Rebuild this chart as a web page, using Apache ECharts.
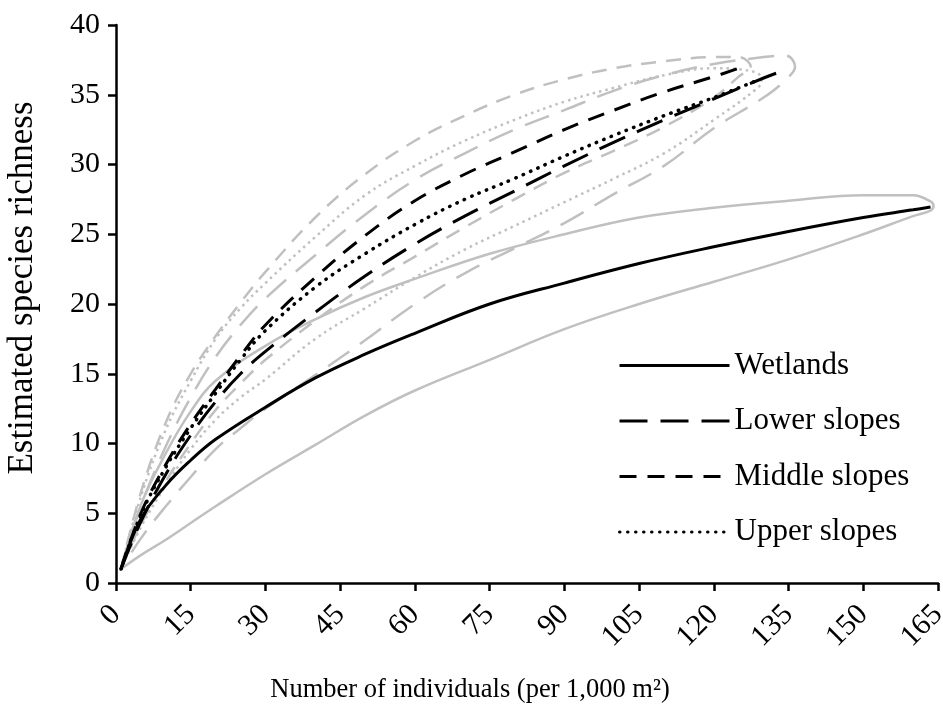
<!DOCTYPE html>
<html><head><meta charset="utf-8">
<script src="https://cdn.jsdelivr.net/npm/echarts@6/dist/echarts.min.js"></script>
<style>html,body{margin:0;padding:0;background:#fff}#c{width:943px;height:715px}</style>
</head><body><div id="c"></div>
<script>
const seriesNames = ['Wetlands', 'Lower slopes', 'Middle slopes', 'Upper slopes'];

// Wetlands
const wetX     = [1, 5, 10, 15, 20, 30, 40, 50, 60, 75, 90, 105, 120, 135, 150, 160, 163.5];
const wetMean  = [1, 4.6, 7.0, 8.8, 10.3, 12.6, 14.7, 16.4, 17.9, 20.0, 21.5, 22.9, 24.1, 25.2, 26.2, 26.75, 26.95];
const wetUpper = [1, 5.6, 9.3, 12.3, 14.5, 17.0, 18.9, 20.5, 21.8, 23.6, 25.0, 26.2, 26.9, 27.4, 27.8, 27.8, 27.35];
const wetLower = [1, 2.0, 3.1, 4.3, 5.5, 7.8, 9.9, 12.0, 13.8, 16.0, 18.2, 20.0, 21.6, 23.2, 25.0, 26.3, 26.7];
const wetTip   = [164.1, 27.0];

// Lower slopes
const lowX     = [1, 5, 10, 15, 20, 25, 30, 40, 50, 60, 70, 80, 90, 100, 110, 120, 130, 134.5];
const lowMean  = [1, 4.4, 7.8, 10.6, 13.0, 15.0, 16.6, 19.4, 22.0, 24.3, 26.3, 28.1, 29.9, 31.6, 33.2, 34.7, 36.2, 36.8];
const lowUpper = [1, 5.5, 9.8, 13.3, 16.2, 18.5, 20.4, 23.5, 26.4, 28.9, 30.8, 32.5, 33.9, 35.3, 36.4, 37.2, 37.7, 37.8];
const lowLower = [1, 3.2, 5.5, 7.6, 9.6, 11.1, 12.5, 14.9, 17.4, 20.0, 22.2, 24.0, 25.8, 27.9, 29.9, 32.6, 34.8, 36.1];
const lowTip   = [136.3, 37.0];

// Middle slopes
const midX     = [1, 5, 10, 15, 20, 25, 30, 40, 50, 60, 70, 80, 90, 100, 110, 120, 125];
const midMean  = [1, 5.0, 8.5, 11.4, 13.9, 16.3, 18.5, 21.9, 24.9, 27.4, 29.3, 30.9, 32.5, 33.9, 35.2, 36.3, 36.9];
const midUpper = [1, 6.5, 11.5, 15.0, 17.7, 20.1, 22.3, 26.2, 29.3, 31.7, 33.5, 35.0, 36.1, 36.9, 37.4, 37.7, 37.7];
const midLower = [1, 4.2, 7.3, 10.0, 12.4, 14.3, 16.0, 18.8, 21.3, 23.4, 25.5, 27.5, 29.4, 31.0, 32.7, 34.8, 36.3];
const midTip   = [127.4, 37.0];

// Upper slopes
const upX      = [1, 5, 10, 15, 20, 25, 30, 40, 50, 60, 70, 80, 90, 100, 110, 120, 128.5];
const upMean   = [1, 4.9, 8.3, 11.1, 13.6, 16.0, 18.1, 21.2, 23.6, 25.7, 27.5, 29.0, 30.6, 32.1, 33.5, 34.8, 36.0];
const upUpper  = [1, 6.2, 11.0, 14.5, 17.5, 19.7, 21.5, 24.8, 27.8, 29.9, 31.7, 33.2, 34.5, 35.5, 36.4, 36.9, 36.6];
const upLower  = [1, 4.0, 7.0, 9.6, 11.7, 13.3, 14.6, 17.5, 19.7, 21.9, 23.9, 25.6, 27.3, 29.0, 30.8, 33.2, 35.4];
const upTip    = [129.6, 36.0];

const xTickMax = 165, xTickStep = 15, yTickMax = 40, yTickStep = 5;

function pts(xs, ys) { return xs.map((x, i) => [x, ys[i]]); }
function envelope(xs, up, lo, tip) {
  return pts(xs, up).concat([tip]).concat(pts(xs, lo).reverse());
}

const FONT = 'Liberation Serif';
const GRAY = '#c0c0c0';
const styles = [
  { black: 'solid', gray: 'solid', cap: 'butt' },
  { black: [28, 13], gray: [26, 13], cap: 'butt' },
  { black: [17, 11], gray: [15, 10], cap: 'butt' },
  { black: [0.5, 7.5], gray: [2.5, 4], cap: 'round' }
];
const groups = [
  [wetX, wetMean, wetUpper, wetLower, wetTip],
  [lowX, lowMean, lowUpper, lowLower, lowTip],
  [midX, midMean, midUpper, midLower, midTip],
  [upX, upMean, upUpper, upLower, upTip]
];

const series = [];
groups.forEach((g, i) => {
  series.push({
    name: seriesNames[i] + ' 95% CI', type: 'line', smooth: 0.4, symbol: 'none',
    silent: true, z: 2,
    lineStyle: { color: GRAY, width: 2.5, type: styles[i].gray, cap: 'butt' },
    data: envelope(g[0], g[2], g[3], g[4])
  });
});
groups.forEach((g, i) => {
  series.push({
    name: seriesNames[i], type: 'line', smooth: 0.4, symbol: 'none', showSymbol: false, z: 3,
    lineStyle: { color: '#000', width: i === 3 ? 3.5 : 3, type: styles[i].black, cap: styles[i].cap },
    itemStyle: { color: '#000' },
    data: pts(g[0], g[1])
  });
});

const chart = echarts.init(document.getElementById('c'));
chart.setOption({
  animation: false,
  backgroundColor: '#fff',
  grid: { left: 116, right: 5, top: 25, bottom: 132, containLabel: false, outerBoundsMode: 'none' },
  legend: {
    data: seriesNames, orient: 'vertical', left: 613, top: 345,
    itemWidth: 110, itemHeight: 20, itemGap: 24.5,
    itemStyle: { opacity: 0 },
    lineStyle: { width: 3 },
    textStyle: { fontFamily: FONT, fontSize: 31, color: '#000' }
  },
  xAxis: {
    type: 'value', min: 0, max: xTickMax, interval: xTickStep,
    name: 'Number of individuals (per 1,000 m²)', nameLocation: 'middle', nameGap: 94,
    nameTextStyle: { fontFamily: FONT, fontSize: 26.5, color: '#000', padding: [0, 114, 0, 0] },
    axisLine: { lineStyle: { color: '#000', width: 2.5 } },
    axisTick: { length: 8, lineStyle: { color: '#000', width: 2.5 } },
    axisLabel: { rotate: 45, margin: 27, fontFamily: FONT, fontSize: 30, color: '#000' },
    splitLine: { show: false }
  },
  yAxis: {
    type: 'value', min: 0, max: yTickMax, interval: yTickStep,
    name: 'Estimated species richness', nameLocation: 'middle', nameGap: 76,
    nameTextStyle: { fontFamily: FONT, fontSize: 35, color: '#000', padding: [0, 0, 0, 32] },
    axisLine: { show: true, lineStyle: { color: '#000', width: 2.5 } },
    axisTick: { show: true, length: 8, lineStyle: { color: '#000', width: 2.5 } },
    axisLabel: { margin: 16, fontFamily: FONT, fontSize: 30, color: '#000' },
    splitLine: { show: false }
  },
  series: series
});
</script>
</body></html>
